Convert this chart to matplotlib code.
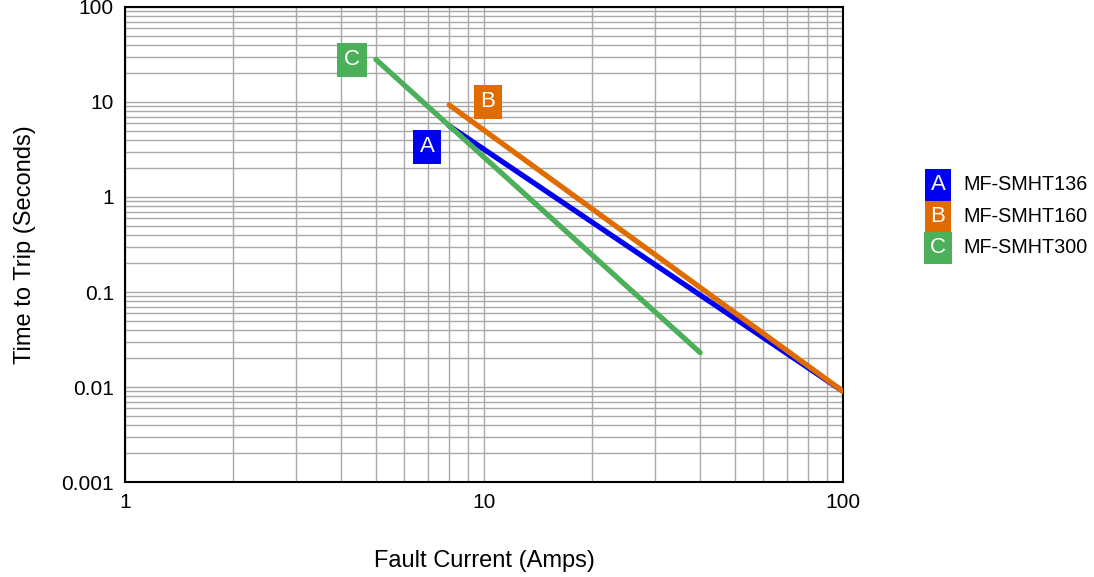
import matplotlib.pyplot as plt
from matplotlib.ticker import LogLocator, NullFormatter, FixedLocator

plt.rcParams['font.family'] = ['Liberation Sans', 'DejaVu Sans']

# curves: fault current (A) vs time to trip (s), endpoints
parts = ["MF-SMHT136", "MF-SMHT160", "MF-SMHT300"]
letters = ["A", "B", "C"]
colors = ["#0000f0", "#e06c00", "#4caf5a"]
amps = [[8, 100], [8, 100], [5, 40]]
secs = [[5.6, 0.009], [9.3, 0.009], [28, 0.023]]
# where the letter tags sit
tag_x = [6.94, 10.26, 4.29]
tag_y = [3.36, 10.0, 27.7]

fig = plt.figure(figsize=(10.94, 5.77), dpi=100)
ax = fig.add_axes([0.1143, 0.1646, 0.6563, 0.8233])

for i in range(3):
    ax.plot(amps[i], secs[i], color=colors[i], lw=3.8, solid_capstyle='round', zorder=3 + (i == 1))
    ax.text(tag_x[i], tag_y[i], letters[i], color='white', fontsize=16, ha='center', va='center',
            bbox=dict(boxstyle='square,pad=0.3', fc=colors[i], ec='none'), zorder=5)

ax.set_xscale('log')
ax.set_yscale('log')
ax.set_xlim(1, 100)
ax.set_ylim(0.001, 100)
ax.xaxis.set_major_locator(FixedLocator([1, 10, 100]))
ax.yaxis.set_major_locator(FixedLocator([0.001, 0.01, 0.1, 1, 10, 100]))
ax.xaxis.set_minor_locator(LogLocator(base=10, subs=range(2, 10)))
ax.yaxis.set_minor_locator(LogLocator(base=10, subs=range(2, 10)))
ax.xaxis.set_minor_formatter(NullFormatter())
ax.yaxis.set_minor_formatter(NullFormatter())
ax.set_xticklabels(["1", "10", "100"])
ax.set_yticklabels(["0.001", "0.01", "0.1", "1", "10", "100"])
ax.grid(which='both', color='#a8a8a8', lw=1)
ax.tick_params(which='both', length=0, labelsize=15, pad=8)
for s in ax.spines.values():
    s.set_linewidth(1.5)

ax.set_xlabel("Fault Current (Amps)", fontsize=17, labelpad=27)
ax.set_ylabel("Time to Trip (Seconds)", fontsize=17, labelpad=18)

# legend on the right
leg_y = [1 - 185 / 577, 1 - 217 / 577, 1 - 248 / 577]
for i in range(3):
    fig.text(938 / 1094, leg_y[i], letters[i], color='white', fontsize=16, ha='center', va='center',
             bbox=dict(boxstyle='square,pad=0.25', fc=colors[i], ec='none'))
    fig.text(963 / 1094, leg_y[i], parts[i], fontsize=14.2, ha='left', va='center')

fig.savefig("out.png", dpi=100)
